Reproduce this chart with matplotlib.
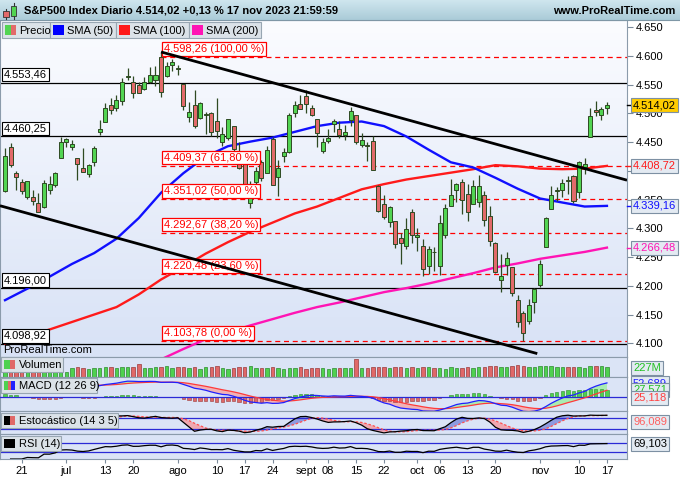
import numpy as np
import pandas as pd
import matplotlib
matplotlib.use('Agg')
import matplotlib.pyplot as plt
from matplotlib.patches import Rectangle
from matplotlib.lines import Line2D
from matplotlib.colors import LinearSegmentedColormap

plt.rcParams['font.family'] = ['Liberation Sans', 'DejaVu Sans']

# ---------------- data ----------------
holidays = ['2023-06-19', '2023-07-04', '2023-09-04']
dates = [d for d in pd.bdate_range('2023-06-15', '2023-11-17')
         if d.strftime('%Y-%m-%d') not in holidays]

open_ = [4365.33, 4440.95, 4396.11, 4380.01, 4355.40, 4354.17, 4344.84, 4337.36, 4367.48, 4374.94, 4422.44,
         4450.48, 4442.04, 4422.62, 4404.54, 4394.23, 4415.55, 4467.69, 4485.76, 4514.61, 4508.86,
         4521.78, 4563.87, 4554.38, 4550.16, 4543.39, 4555.19, 4558.96, 4598.26, 4565.75, 4584.82,
         4578.83, 4550.93, 4494.27, 4513.96, 4491.58, 4498.03, 4501.57, 4487.16, 4450.69, 4458.13,
         4478.87, 4433.79, 4416.32, 4344.88, 4380.28, 4415.33, 4396.44, 4455.16, 4389.38, 4426.03,
         4432.75, 4500.34, 4517.01,
         4530.60, 4510.06, 4490.35, 4434.55, 4451.30, 4480.98, 4473.27, 4462.65, 4487.78, 4497.98,
         4445.13, 4445.41, 4452.81, 4374.36, 4341.74, 4310.62, 4312.88, 4282.63, 4269.65, 4328.18,
         4284.52, 4269.75, 4233.83, 4259.31, 4234.79, 4289.02, 4339.75, 4366.59, 4380.94, 4360.49,
         4342.37, 4345.23, 4357.35, 4321.36, 4273.85, 4210.40, 4235.79, 4232.42, 4175.99, 4152.93,
         4139.39, 4171.33,
         4201.27, 4268.26, 4334.23, 4364.27, 4366.21, 4384.37, 4391.41, 4364.15, 4406.66, 4458.97,
         4505.30, 4497.08, 4509.55]
high = [4439.20, 4448.47, 4400.15, 4386.22, 4382.25, 4366.55, 4362.06, 4384.42, 4390.35, 4398.39, 4458.48,
        4456.46, 4454.06, 4422.62, 4440.39, 4412.60, 4443.64, 4488.34, 4517.38, 4527.76, 4532.85,
        4562.30, 4578.43, 4564.74, 4555.00, 4563.41, 4580.62, 4582.47, 4607.07, 4590.16, 4594.22,
        4584.62, 4550.93, 4519.49, 4540.34, 4519.84, 4503.31, 4502.44, 4527.37, 4476.23, 4490.33,
        4478.87, 4449.95, 4421.17, 4381.82, 4407.55, 4418.59, 4443.18, 4458.30, 4418.46, 4439.56,
        4500.14, 4521.65, 4532.26,
        4541.25, 4514.29, 4490.35, 4457.81, 4473.53, 4490.77, 4487.11, 4479.39, 4511.99, 4497.98,
        4466.36, 4449.85, 4461.03, 4375.70, 4357.40, 4338.51, 4313.01, 4292.07, 4317.27, 4333.15,
        4300.58, 4281.15, 4268.50, 4267.13, 4324.10, 4341.73, 4385.46, 4378.64, 4385.85, 4377.10,
        4383.33, 4393.57, 4364.20, 4339.54, 4276.56, 4255.84, 4259.38, 4232.42, 4183.60, 4156.70,
        4177.47, 4195.55,
        4245.64, 4319.72, 4373.62, 4372.21, 4386.26, 4391.20, 4393.40, 4418.03, 4421.76, 4508.67,
        4521.17, 4511.99, 4520.12]
low = [4362.60, 4407.44, 4367.19, 4360.14, 4351.82, 4341.34, 4328.08, 4335.00, 4360.22, 4371.97, 4422.44,
       4442.29, 4436.61, 4385.05, 4397.40, 4389.92, 4408.46, 4463.23, 4485.76, 4499.56, 4504.90,
       4514.59, 4557.48, 4527.56, 4535.79, 4541.29, 4552.42, 4547.58, 4528.56, 4564.01, 4573.14,
       4567.53, 4505.75, 4485.54, 4474.55, 4491.15, 4464.39, 4461.33, 4457.92, 4443.98, 4453.44,
       4432.19, 4403.55, 4364.83, 4335.31, 4360.30, 4382.77, 4396.44, 4375.55, 4356.29, 4414.98,
       4431.68, 4493.59, 4507.39,
       4501.35, 4496.01, 4442.38, 4430.46, 4448.38, 4467.89, 4456.83, 4453.52, 4478.69, 4447.21,
       4442.11, 4416.61, 4401.38, 4329.17, 4316.49, 4302.70, 4265.98, 4238.63, 4264.38, 4274.86,
       4260.21, 4216.45, 4220.48, 4225.91, 4219.55, 4283.79, 4339.64, 4345.34, 4325.43, 4311.97,
       4342.37, 4337.54, 4303.84, 4269.69, 4223.03, 4189.22, 4219.43, 4181.42, 4127.90, 4103.78,
       4132.94, 4153.12,
       4197.74, 4268.26, 4334.23, 4347.53, 4355.41, 4359.76, 4343.94, 4353.34, 4393.82, 4458.97,
       4495.31, 4487.83, 4499.66]
close = [4425.84, 4409.59, 4388.71, 4365.69, 4381.89, 4348.33, 4328.82, 4378.41, 4376.86, 4396.44, 4450.38,
         4455.59, 4446.82, 4411.59, 4398.95, 4409.53, 4439.26, 4472.16, 4510.04, 4505.42, 4522.79,
         4554.98, 4565.72, 4534.87, 4536.34, 4554.64, 4567.46, 4566.75, 4537.41, 4582.23, 4588.96,
         4576.73, 4513.39, 4501.89, 4478.03, 4518.44, 4499.38, 4467.71, 4468.83, 4464.05, 4489.72,
         4437.86, 4404.33, 4370.36, 4369.71, 4399.77, 4387.55, 4436.01, 4376.31, 4405.71, 4433.31,
         4497.63, 4514.87, 4507.66,
         4515.77, 4496.83, 4465.48, 4451.14, 4457.49, 4487.46, 4461.90, 4467.44, 4505.10, 4450.32,
         4453.53, 4443.95, 4402.20, 4330.00, 4320.06, 4337.44, 4273.53, 4274.51, 4299.70, 4288.05,
         4288.39, 4229.45, 4263.75, 4258.19, 4308.50, 4335.66, 4358.24, 4376.95, 4349.61, 4327.78,
         4373.63, 4373.20, 4314.60, 4278.00, 4224.16, 4217.04, 4247.68, 4186.77, 4137.23, 4117.37,
         4166.82, 4193.80,
         4237.86, 4317.78, 4358.34, 4365.98, 4378.38, 4382.78, 4347.35, 4415.24, 4411.55, 4495.70,
         4502.88, 4508.24, 4514.02]
volume_m = [240, 330, 215, 215, 200, 235, 205, 210, 200, 195, 225,
            110, 200, 215, 200, 190, 205, 210, 230, 220, 205, 215, 225, 215, 290, 205, 210, 220, 235, 240, 200,
            215, 230, 210, 225, 190, 215, 215, 245, 200, 180, 210, 215, 225, 245, 200, 195, 200, 230, 195, 175,
            200, 195, 225,
            190, 210, 200, 205, 175, 205, 195, 205, 205, 400, 200, 195, 220, 230, 220, 200, 230, 215, 210, 230,
            210, 230, 215, 205, 205, 190, 215, 205, 205, 215, 200, 215, 225, 250, 245, 225, 220, 245, 260, 250,
            215, 235,
            240, 255, 245, 220, 230, 235, 215, 220, 200, 255, 255, 245, 227]

# moving averages read every 4th session
SMA_STEP = 4
sma50 = [4175, 4195, 4216, 4238, 4257, 4282, 4318, 4362, 4396, 4425, 4443, 4451, 4458, 4468,
         4478, 4484, 4486, 4478, 4460, 4437, 4415, 4406, 4388, 4369, 4352, 4345, 4338, 4339.16]
sma100 = [4100, 4112, 4124, 4137, 4150, 4163, 4185, 4211, 4233, 4256, 4276, 4294, 4310, 4326,
          4338, 4353, 4368, 4377, 4385, 4391, 4397, 4403, 4410, 4408, 4404, 4403, 4404, 4408.72]
sma200_first_date = '2023-07-27'
sma200 = [4072, 4090, 4107, 4119, 4131, 4142, 4153, 4163, 4171, 4180, 4189, 4196, 4204, 4213,
          4222, 4232, 4239, 4247, 4253, 4259, 4266.48]

fib_high, fib_low = 4598.26, 4103.78
fib_ratios = [1.0, 0.618, 0.5, 0.382, 0.236, 0.0]
fib_start_date = '2023-07-27'
hlevels = [4553.46, 4460.25, 4196.00, 4098.92]

upper_trend_date, upper_trend_value = '2023-07-27', 4607.07
trend_slope = -2.67            # points per session
lower_trend_value0 = 4337.0     # at first session
lower_trend_end_date = '2023-10-31'

# indicator seeds (state before first session)
ema12_seed, ema26_seed, signal_seed = 4322.0, 4262.0, 52.0

last_labels = dict(price='4.514,02', sma100='4.408,72', sma50='4.339,16', sma200='4.266,48',
                   vol='227M', macd='52,689', hist='27,571', signal='25,118', stoch='96,089', rsi='69,103')

price_ticks = [4100, 4150, 4200, 4250, 4300, 4350, 4400, 4450, 4500, 4550, 4600, 4650]
hidden_tick = 4400   # covered by the SMA(100) value box

tick_dates = ['2023-06-21', '2023-07-03', '2023-07-13', '2023-07-20', '2023-08-01', '2023-08-10',
              '2023-08-17', '2023-08-24', '2023-09-01', '2023-09-08', '2023-09-15', '2023-09-22',
              '2023-10-02', '2023-10-06', '2023-10-13', '2023-10-20', '2023-11-01', '2023-11-10',
              '2023-11-17']
tick_labels = ['21', 'jul', '13', '20', 'ago', '10', '17', '24', 'sept', '08', '15', '22',
               'oct', '06', '13', '20', 'nov', '10', '17']

# ---------------- helpers ----------------
W, H = 680, 480
R = 627
n = len(close)
x = np.arange(n)
didx = {d.strftime('%Y-%m-%d'): i for i, d in enumerate(dates)}
o = np.array(open_); h = np.array(high); l = np.array(low); c = np.array(close)
XLIM = (-0.9, 111.6)


def eu(v, d=2):
    s = f"{v:,.{d}f}"
    return s.replace(',', 'X').replace('.', ',').replace('X', '.')


def fy(y):
    return 1 - y / H


def fx(px):
    return px / W


fig = plt.figure(figsize=(6.8, 4.8), dpi=100, facecolor='white')


def mk(top, bot):
    a = fig.add_axes([0, fy(bot), R / W, (bot - top) / H])
    a.set_xlim(*XLIM)
    a.set_xticks([])
    for s in a.spines.values():
        s.set_color('#8b9bab')
        s.set_linewidth(0.8)
    return a


def grad_bg(a, c1, c2):
    cm = LinearSegmentedColormap.from_list('g', [c1, c2])
    a.imshow(np.linspace(0, 1, 100).reshape(-1, 1), cmap=cm, aspect='auto',
             extent=[0, 1, 0, 1], transform=a.transAxes, zorder=0)


def prect(x0, y0, x1, y1, fc, ec='none', lw=0.8, z=30):
    fig.add_artist(Rectangle((fx(x0), fy(y1)), (x1 - x0) / W, (y1 - y0) / H,
                             transform=fig.transFigure, fc=fc, ec=ec, lw=lw, zorder=z))


def ptext(px, py, s, **kw):
    fig.text(fx(px), fy(py), s, zorder=40, **kw)


def rbox(py, s, tc, fc='#e3eaf2', ec='#7d90a3'):
    fig.text(fx(633), fy(py), s, color=tc, fontsize=8, va='center', ha='left', zorder=45,
             bbox=dict(boxstyle='square,pad=0.18', fc=fc, ec=ec, lw=0.8))


# ---------------- main panel ----------------
ax = mk(20, 357)
grad_bg(ax, '#fbfcff', '#d8e2f6')
YL = (4076.1, 4662.7)

# horizontal support lines
for v in hlevels:
    ax.axhline(v, color='black', lw=0.9, zorder=2)
    ax.annotate(eu(v), xy=(0, v), xycoords=ax.get_yaxis_transform(), xytext=(4, 3),
                textcoords='offset pixels', ha='left', va='bottom', fontsize=8, zorder=12,
                bbox=dict(boxstyle='square,pad=0.15', fc='white', ec='black', lw=0.8))

# fibonacci
fs = didx[fib_start_date]
for r in fib_ratios:
    v = fib_low + r * (fib_high - fib_low)
    ax.plot([fs, XLIM[1]], [v, v], color='#ff0000', lw=0.9, ls=(0, (4, 3)), zorder=2)
    ax.annotate(f"{eu(v)} ({eu(r * 100)} %)", xy=(fs, v), xytext=(3, 3),
                textcoords='offset pixels', ha='left', va='bottom', fontsize=8, color='#ff0000',
                zorder=12, bbox=dict(boxstyle='square,pad=0.15', fc='white', ec='#ff0000', lw=0.9))

# moving averages
sx = x[::SMA_STEP]
ax.plot(sx, sma100, color='#ff1a1a', lw=1.7, zorder=5)
ax.plot(sx, sma50, color='#1010ff', lw=1.7, zorder=5)
s200x = np.arange(didx[sma200_first_date], n, SMA_STEP)
ax.plot(s200x, sma200, color='#ff14b4', lw=1.7, zorder=5)

# candles
up = c >= o
edge = '#2e4a22'
ax.vlines(x, l, h, color=edge, lw=0.9, zorder=7)
body_h = np.maximum(np.abs(c - o), 0.8)
ax.bar(x, body_h, bottom=np.minimum(o, c), width=0.72,
       color=np.where(up, '#52d452', '#e26a6a'), edgecolor=edge, lw=0.7, zorder=8)

# trend lines (drawn over the level labels, as in the reference)
ui = didx[upper_trend_date]
ax.plot([ui, XLIM[1]], [upper_trend_value, upper_trend_value + trend_slope * (XLIM[1] - ui)],
        color='black', lw=2.0, zorder=13, solid_capstyle='butt')
le = didx[lower_trend_end_date] + 0.5
ax.plot([XLIM[0], le], [lower_trend_value0 + trend_slope * XLIM[0], lower_trend_value0 + trend_slope * le],
        color='black', lw=2.0, zorder=13, solid_capstyle='butt')

ax.set_ylim(*YL)
ax.set_xlim(*XLIM)
ax.yaxis.tick_right()
ax.set_yticks(price_ticks)
ax.set_yticklabels(['' if t == hidden_tick else eu(t, 0) for t in price_ticks])
ax.tick_params(axis='y', length=4, width=0.8, color='#7b8b9b', labelsize=8, pad=2)

# right-side value boxes for price & averages
def vbox(v, s, tc, fc='#e3eaf2'):
    ax.plot([1.0, 1.009], [v, v], color=tc if fc != '#ffcc00' else 'black', lw=1,
            transform=ax.get_yaxis_transform(), clip_on=False, zorder=20)
    ax.annotate(s, xy=(1, v), xycoords=ax.get_yaxis_transform(), xytext=(6, 0),
                textcoords='offset pixels', ha='left', va='center', fontsize=8, color=tc,
                zorder=25, annotation_clip=False,
                bbox=dict(boxstyle='square,pad=0.18', fc=fc, ec='#7d90a3', lw=0.8))

vbox(c[-1], last_labels['price'], 'black', fc='#ffcc00')
vbox(sma100[-1], last_labels['sma100'], '#ff1a1a')
vbox(sma50[-1], last_labels['sma50'], '#1010ff')
vbox(sma200[-1], last_labels['sma200'], '#ff14b4')

ax.annotate('ProRealTime.com', xy=(0, 0), xycoords='axes fraction', xytext=(3, 2),
            textcoords='offset pixels', ha='left', va='bottom', fontsize=8, zorder=12)

# ---------------- volume ----------------
av = mk(357, 377)
av.set_facecolor('#dbe4f6')
av.bar(x, volume_m, width=0.62, color=np.where(up, '#4fd14f', '#e06868'),
       edgecolor=np.where(up, '#2d8a2d', '#9a3a3a'), lw=0.5)
av.set_ylim(0, 450)
av.set_yticks([])

# ---------------- MACD ----------------
def ema(arr, span, seed):
    a = 2.0 / (span + 1)
    out = np.empty(len(arr))
    prev = seed
    for i, v in enumerate(arr):
        prev = prev + a * (v - prev)
        out[i] = prev
    return out

macd = ema(c, 12, ema12_seed) - ema(c, 26, ema26_seed)
sig = ema(macd, 9, signal_seed)
hist = macd - sig
am = mk(377, 411)
am.set_facecolor('#dbe4f6')
am.fill_between(x, macd, sig, where=macd >= sig, interpolate=True, color='#a9ecb2', lw=0, zorder=2)
am.fill_between(x, macd, sig, where=macd < sig, interpolate=True, color='#f1b2b6', lw=0, zorder=2)
am.bar(x, hist, width=0.6, color=np.where(hist >= 0, '#4fd14f', '#e06868'),
       edgecolor=np.where(hist >= 0, '#2d8a2d', '#9a3a3a'), lw=0.4, zorder=3)
am.axhline(0, color='#2a2ad6', lw=0.9, zorder=4)
am.plot(x, sig, color='#ff3a3a', lw=0.9, zorder=5)
am.plot(x, macd, color='#2020ff', lw=0.9, zorder=6)
am.set_ylim(-53, 75)
am.set_yticks([])

# ---------------- Stochastic ----------------
raw = np.full(n, np.nan)
for i in range(13, n):
    hh = h[i - 13:i + 1].max(); ll = l[i - 13:i + 1].min()
    raw[i] = (c[i] - ll) / (hh - ll) * 100
kk = pd.Series(raw).rolling(3).mean().to_numpy()
dd = pd.Series(kk).rolling(5).mean().to_numpy()
ast = mk(411, 434)
ast.set_facecolor('#dbe4f6')
ok = ~np.isnan(dd)
ast.fill_between(x[ok], kk[ok], dd[ok], where=kk[ok] >= dd[ok], interpolate=True, color='#8e9be0', lw=0)
ast.fill_between(x[ok], kk[ok], dd[ok], where=kk[ok] < dd[ok], interpolate=True, color='#f0a8b0', lw=0)
ast.axhline(80, color='#2a2ad6', lw=0.9)
ast.axhline(20, color='#2a2ad6', lw=0.9)
ast.plot(x, dd, color='#ff5050', lw=0.9, ls=(0, (2, 1.5)))
ast.plot(x, kk, color='black', lw=0.9)
ast.set_ylim(-5, 120)
ast.set_yticks([])

# ---------------- RSI ----------------
delta = np.diff(c)
gain = pd.Series(np.clip(delta, 0, None)).ewm(alpha=1 / 14, adjust=False).mean().to_numpy()
loss = pd.Series(np.clip(-delta, 0, None)).ewm(alpha=1 / 14, adjust=False).mean().to_numpy()
rsi = np.concatenate([[np.nan], 100 - 100 / (1 + gain / np.maximum(loss, 1e-9))])
ar = mk(434, 459)
ar.set_facecolor('#dbe4f6')
ar.axhline(70, color='#2a2ad6', lw=0.9)
ar.axhline(30, color='#2a2ad6', lw=0.9)
ar.plot(x, rsi, color='black', lw=0.9)
ar.set_ylim(0, 112)
ar.set_yticks([])
ar.set_xticks([didx[d] for d in tick_dates])
ar.set_xticklabels(tick_labels, fontsize=8)
ar.tick_params(axis='x', length=3, width=0.8, color='#7b8b9b', pad=2)

# ---------------- header & legends ----------------
hax = fig.add_axes([0, fy(20), 1, 20 / H])
hax.axis('off')
grad_bg(hax, '#cfe6ee', '#aacbd8')
hax.set_xlim(0, 1); hax.set_ylim(0, 1)
fig.add_artist(Line2D([0, 1], [fy(20), fy(20)], transform=fig.transFigure, color='#7f97a6', lw=0.8, zorder=31))
# icon
fig.add_artist(Line2D([fx(6), fx(6)], [fy(9), fy(19)], transform=fig.transFigure, color='#333', lw=0.8, zorder=31))
prect(3, 11, 9, 17, '#e26a6a', '#333', 0.6, 32)
fig.add_artist(Line2D([fx(13.5), fx(13.5)], [fy(3), fy(19)], transform=fig.transFigure, color='#333', lw=0.8, zorder=31))
prect(11, 6, 16, 16, '#52d452', '#333', 0.6, 32)
ptext(24, 10.5, 'S&P500 Index Diario 4.514,02 +0,13 % 17 nov 2023 21:59:59', fontsize=8,
      fontweight='bold', va='center', ha='left')
ptext(675, 10.5, 'www.ProRealTime.com', fontsize=8, fontweight='bold', va='center', ha='right')

LBF, LBE = '#dbe2e8', '#98a6b2'
legend_items = [(2, 50, ['#52d452', '#e26a6a'], 'Precio'),
                (50, 116, ['#0000ff'], 'SMA (50)'),
                (116, 189, ['#ff1a1a'], 'SMA (100)'),
                (189, 261, ['#ff14b4'], 'SMA (200)')]
for x0, x1, cols, txt in legend_items:
    prect(x0, 22, x1, 38, LBF, LBE)
    wdt = 11 / len(cols)
    for k, col in enumerate(cols):
        prect(5 + x0 - 2 + k * wdt, 25, 5 + x0 - 2 + (k + 1) * wdt, 35, col, z=33)
    ptext(x0 + 17, 30.5, txt, fontsize=8, va='center', ha='left')

panel_labels = [(357, 372, 63, ['#4fd14f', '#e06868'], 'Volumen'),
                (378, 393, 97, ['#4fd14f', '#e06868', '#2020ff'], 'MACD (12 26 9)'),
                (413, 428, 118, ['black', '#e06868'], 'Estocástico (14 3 5)'),
                (436, 451, 61, ['black'], 'RSI (14)')]
for y0, y1, x1, cols, txt in panel_labels:
    prect(1, y0, x1, y1, LBF, LBE)
    wdt = 11 / len(cols)
    for k, col in enumerate(cols):
        prect(4 + k * wdt, y0 + 3, 4 + (k + 1) * wdt, y1 - 3, col, z=33)
    ptext(19, (y0 + y1) / 2 + 0.5, txt, fontsize=8, va='center', ha='left')

# right labels of sub panels
rbox(368, last_labels['vol'], '#22c022')
rbox(383, last_labels['macd'], '#2020ff')
rbox(389.5, last_labels['hist'], '#22c022')
rbox(397.5, last_labels['signal'], '#ff4040')
rbox(421.5, last_labels['stoch'], '#ff6060')
rbox(443.5, last_labels['rsi'], 'black')

fig.savefig('out.png', dpi=100, facecolor='white')
